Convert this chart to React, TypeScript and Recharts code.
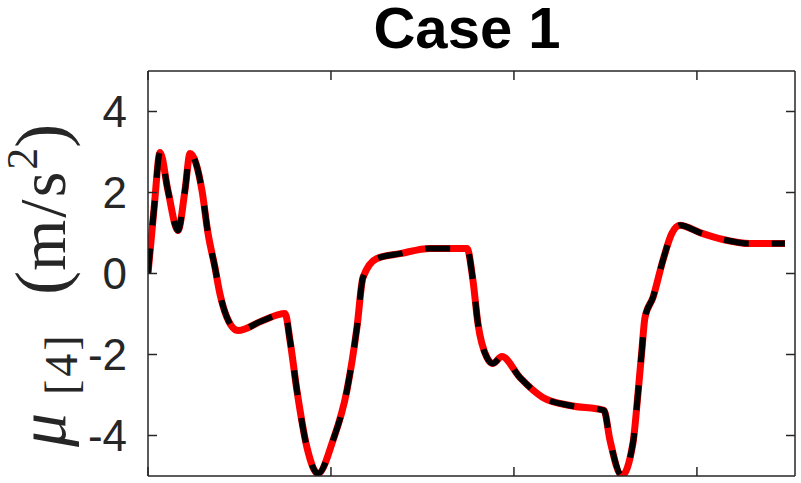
import React from 'react';
import { LineChart, Line, XAxis, YAxis } from 'recharts';

const timeValues = [0, 0.33, 0.66, 1.09, 1.64, 2.02, 2.3, 2.95, 3.28, 3.66, 3.93, 4.32, 4.92, 6.28, 7.49, 7.76, 8.14, 8.69, 9.29, 10.11, 10.87, 11.42, 11.75, 12.51, 13.77, 15.41, 17.43, 17.76, 18.03, 18.52, 18.85, 19.34, 20.33, 21.58, 23.06, 24.92, 25.25, 25.9, 26.5, 26.78, 26.99, 27.16, 27.6, 28.14, 28.63, 29.07, 30.16, 31.42, 32.9, 34.81];
const muValues = [0, 1.6, 2.99, 2.05, 1.06, 2.05, 2.96, 2.05, 0.99, 0.15, -0.5, -1.09, -1.41, -1.16, -0.99, -1.65, -2.89, -4.3, -4.94, -4.12, -2.89, -1.33, -0.1, 0.37, 0.49, 0.62, 0.62, -0.17, -1.23, -2.07, -2.22, -2.05, -2.57, -3.06, -3.26, -3.38, -4.12, -4.99, -4.2, -2.96, -1.9, -1.09, -0.59, 0.32, 0.99, 1.19, 1.01, 0.84, 0.74, 0.74];
const yTicks = [-4, -2, 0, 2, 4];
const xTicks = [0, 10, 20, 30];
const titleText = 'Case 1';

const data = timeValues.map((t, i) => ({ t, v: muValues[i] }));

const AX = '#262626';
const TL = 9;
const axisLineStyle = { stroke: AX, strokeWidth: 1.5 };

const LeftTick = (props: any) => {
  const { x, y, payload } = props;
  const ax = x + 21;
  return (
    <g>
      <line x1={ax} y1={y} x2={ax + TL} y2={y} stroke={AX} strokeWidth={1.5} />
      <text x={x} y={y} dy="0.355em" textAnchor="end" fill={AX} fontSize={44}
        fontFamily="Liberation Sans, Arial, sans-serif">{payload.value}</text>
    </g>
  );
};
const RightTick = (props: any) => {
  const { x, y } = props;
  return <line x1={x} y1={y} x2={x - TL} y2={y} stroke={AX} strokeWidth={1.5} />;
};
const TopTick = (props: any) => {
  const { x, y } = props;
  return <line x1={x} y1={y} x2={x} y2={y + TL} stroke={AX} strokeWidth={1.5} />;
};
const BottomTick = (props: any) => {
  const { x, y } = props;
  return <line x1={x} y1={y} x2={x} y2={y - TL} stroke={AX} strokeWidth={1.5} />;
};

export default function App() {
  return (
    <div style={{ position: 'absolute', left: 0, top: 0, width: 801, height: 483, background: '#fff' }}>
      <LineChart width={801} height={483} data={data} margin={{ top: 0, right: 0, bottom: 0, left: 0 }}>
        <XAxis xAxisId="b" dataKey="t" type="number" domain={[0, 35.36]} allowDataOverflow ticks={xTicks}
          orientation="bottom" height={7} tickSize={0} tickMargin={0} tickLine={false}
          axisLine={axisLineStyle} tick={<BottomTick />} />
        <XAxis xAxisId="t" dataKey="t" type="number" domain={[0, 35.36]} allowDataOverflow ticks={xTicks}
          orientation="top" height={71} tickSize={0} tickMargin={0} tickLine={false}
          axisLine={axisLineStyle} tick={<TopTick />} />
        <YAxis yAxisId="l" type="number" domain={[-5, 5]} allowDataOverflow ticks={yTicks}
          orientation="left" width={148} tickSize={0} tickMargin={21} tickLine={false}
          axisLine={axisLineStyle} tick={<LeftTick />} />
        <YAxis yAxisId="r" type="number" domain={[-5, 5]} allowDataOverflow ticks={yTicks}
          orientation="right" width={6} tickSize={0} tickMargin={0} tickLine={false}
          axisLine={axisLineStyle} tick={<RightTick />} />
        <Line xAxisId="b" yAxisId="l" dataKey="v" type="monotone" stroke="#ff0000" strokeWidth={7}
          dot={false} isAnimationActive={false} strokeLinejoin="round" />
        <Line xAxisId="t" yAxisId="r" dataKey="v" type="monotone" stroke="#000000" strokeWidth={6}
          strokeDasharray="25 23" dot={false} isAnimationActive={false} strokeLinecap="butt" />
      </LineChart>
      <svg width={801} height={483} style={{ position: 'absolute', left: 0, top: 0, pointerEvents: 'none' }}>
        <text x={467} y={48} textAnchor="middle" fontFamily="Liberation Sans, Arial, sans-serif"
          fontWeight="bold" fontSize={58} fill="#000">{titleText}</text>
        <g transform="translate(65, 453) rotate(-90)">
          <text x={0} y={0} fontFamily="Liberation Serif, Times New Roman, serif" fontSize={66} fill={AX}>
            <tspan x={6} fontStyle="italic" fontSize={68}>μ</tspan>
            <tspan x={58} fontSize={46} dy={12} letterSpacing={3}>[4]</tspan>
            <tspan x={158} dy={-12} fontSize={72}>(</tspan>
            <tspan letterSpacing={2}>m/s</tspan>
            <tspan fontSize={44} dy={-28}>2</tspan>
            <tspan dy={28} fontSize={72}>)</tspan>
          </text>
        </g>
      </svg>
    </div>
  );
}
